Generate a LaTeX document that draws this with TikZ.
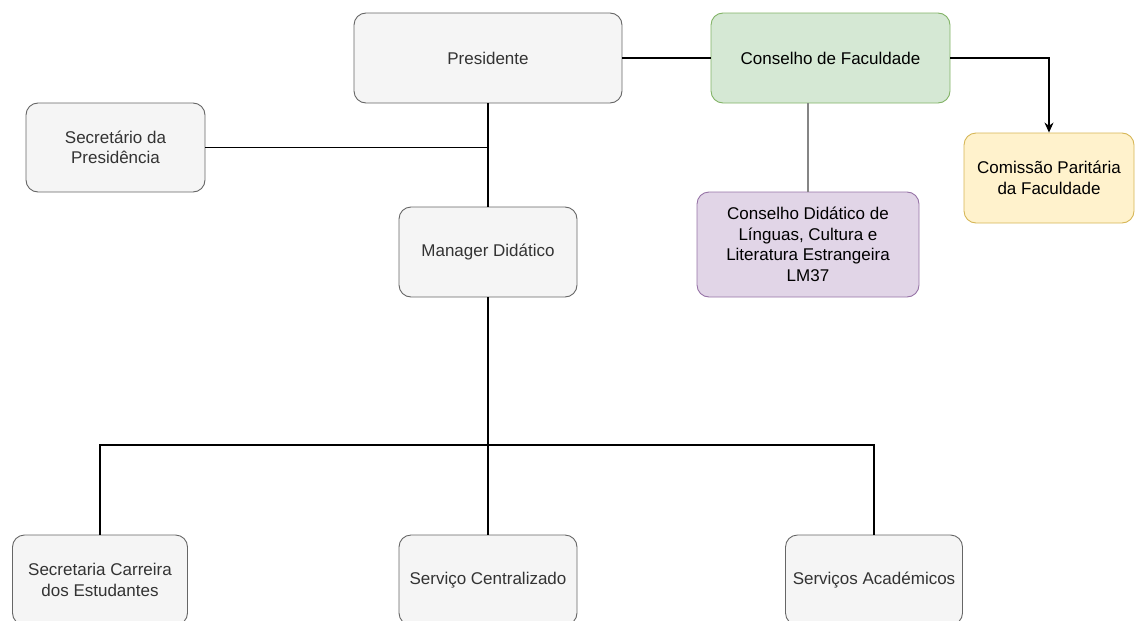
\documentclass[tikz,border=0pt]{standalone}
\usepackage{fontspec}
\setmainfont{Liberation Sans}
\usepackage{tikz}
\usetikzlibrary{arrows.meta}

\definecolor{grayfill}{HTML}{F5F5F5}
\definecolor{grayline}{HTML}{666666}
\definecolor{graytext}{HTML}{333333}
\definecolor{greenfill}{HTML}{D5E8D4}
\definecolor{greenline}{HTML}{82B366}
\definecolor{purplefill}{HTML}{E1D5E7}
\definecolor{purpleline}{HTML}{9673A6}
\definecolor{yellowfill}{HTML}{FFF2CC}
\definecolor{yellowline}{HTML}{D6B656}

\begin{document}
\begin{tikzpicture}[x=1pt, y=-1pt,
	font=\fontsize{17}{20.5}\selectfont,
	box/.style={draw, rounded corners=12pt, align=center, inner sep=0pt, line width=0.9pt},
	graybox/.style={box, fill=grayfill, draw=grayline, text=graytext},
	greenbox/.style={box, fill=greenfill, draw=greenline},
	purplebox/.style={box, fill=purplefill, draw=purpleline},
	yellowbox/.style={box, fill=yellowfill, draw=yellowline},
	link/.style={line width=1.1pt}]
	\useasboundingbox (0,0) rectangle (1135,621);

	% Top row
	\node[graybox, minimum width=268pt, minimum height=90pt] (pres) at (488,58) {Presidente};
	\node[greenbox, minimum width=239pt, minimum height=90pt] (cons) at (830.5,58) {Conselho de Faculdade};
	\node[yellowbox, minimum width=170pt, minimum height=90pt] (comis) at (1049,178) {Comissão Paritária\\da Faculdade};
	\node[purplebox, minimum width=222pt, minimum height=105pt] (cdid) at (808,244.5) {Conselho Didático de\\Línguas, Cultura e\\Literatura Estrangeira\\LM37};

	% Middle row
	\node[graybox, minimum width=179pt, minimum height=89pt] (secp) at (115.5,147.5) {Secretário da\\Presidência};
	\node[graybox, minimum width=178pt, minimum height=90pt] (man) at (488,252) {Manager Didático};

	% Bottom row
	\node[graybox, minimum width=175pt, minimum height=90pt] (secc) at (100,580) {Secretaria Carreira\\dos Estudantes};
	\node[graybox, minimum width=178pt, minimum height=90pt] (serc) at (488,580) {Serviço Centralizado};
	\node[graybox, minimum width=177pt, minimum height=90pt] (sera) at (874,580) {Serviços Académicos};

	% Connectors
	\draw[link] (pres) -- (cons);
	\draw[link, -{Stealth[length=10pt, width=9pt]}] (cons.east) -| (comis.north);
	\draw[link, draw=grayline!80] (cdid.north |- cons.south) -- (cdid.north);
	\draw[link] (pres.south) -- (man.north);
	\draw[link] (secp.east) -- (secp.east -| pres.south);

	%Bus to the services
	\coordinate (bus) at (488,445);
	\draw[link] (man.south) -- (bus);
	\draw[link] (bus) -| (secc.north);
	\draw[link] (bus) -- (serc.north);
	\draw[link] (bus) -| (sera.north);
\end{tikzpicture}
\end{document}
